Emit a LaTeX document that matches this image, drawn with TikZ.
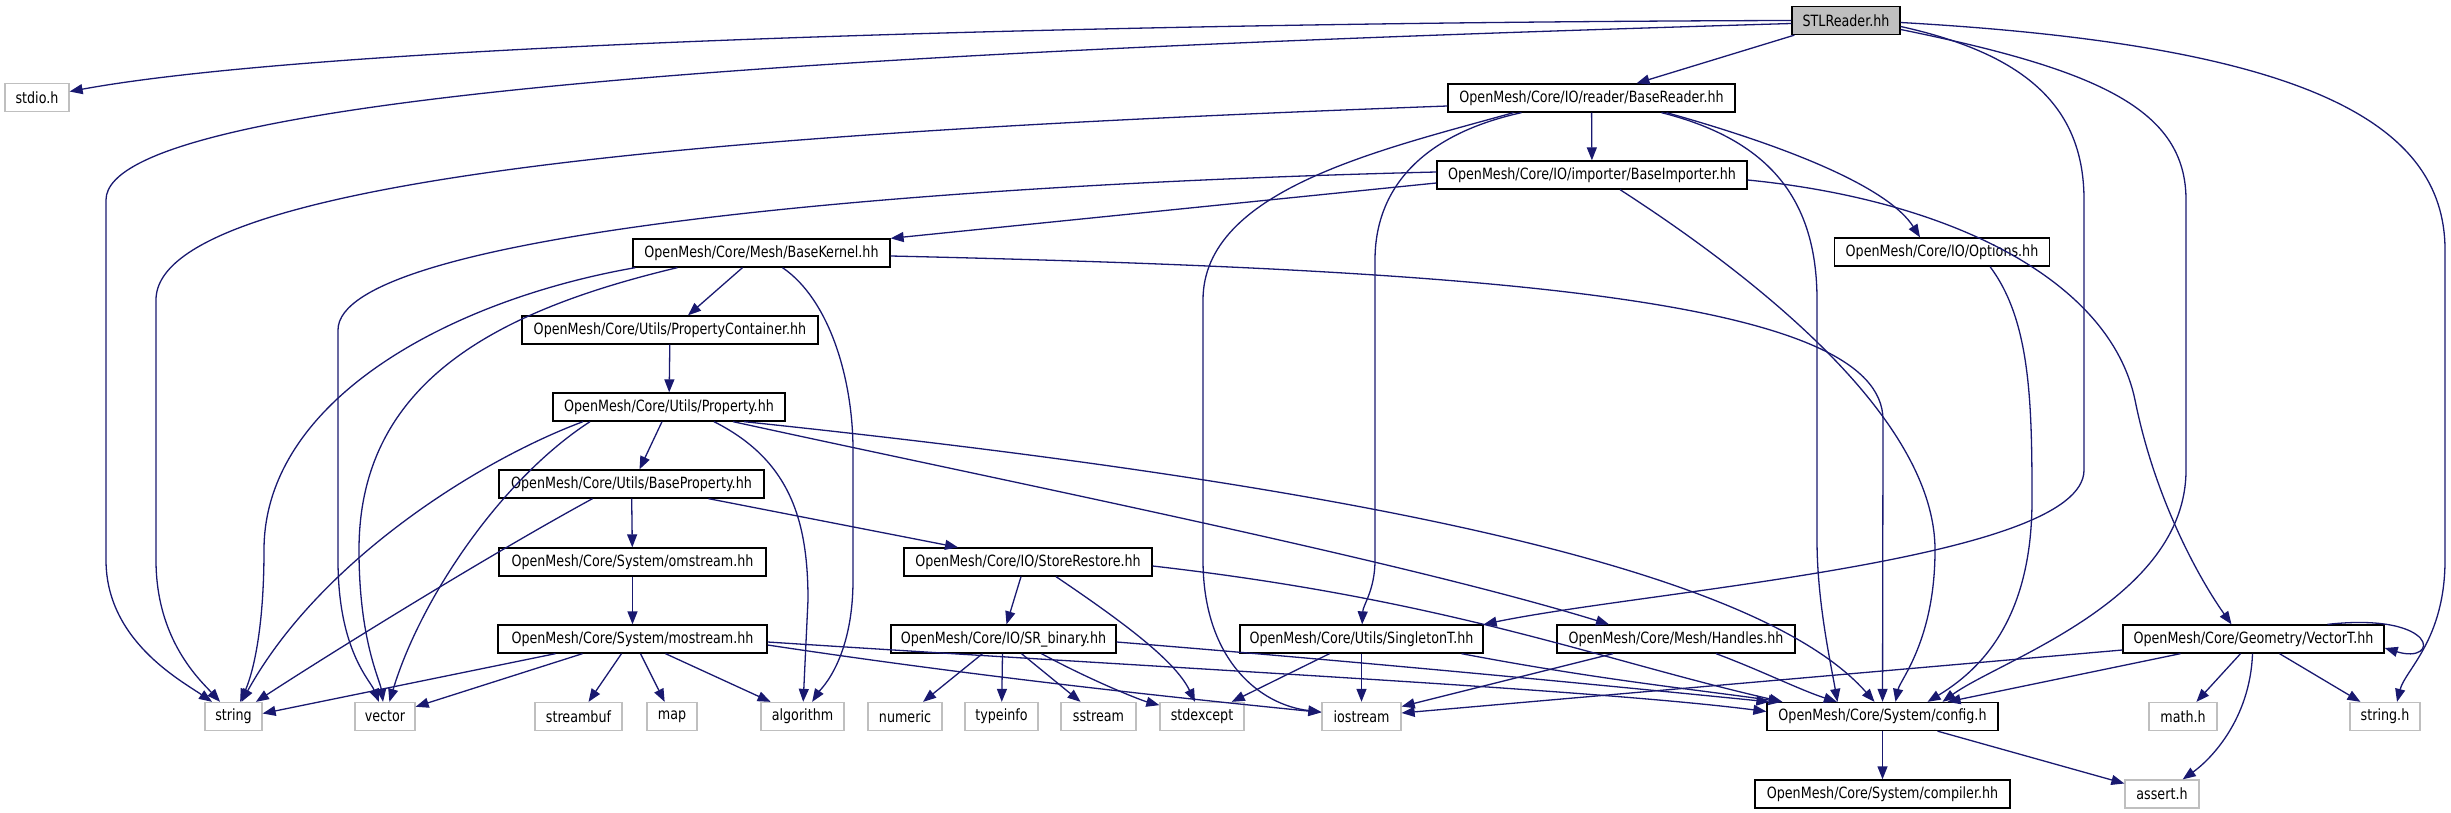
\documentclass[tikz,border=0pt]{standalone}
\usepackage{fontspec}
\setmainfont{DejaVu Sans}[FakeStretch=0.82]
\usetikzlibrary{arrows.meta}
\definecolor{edgec}{HTML}{191970}
\definecolor{extc}{HTML}{BFBFBF}
\definecolor{rootc}{HTML}{BFBFBF}
\begin{document}
\begin{tikzpicture}[x=1pt,y=-1pt,
  font=\fontsize{15.5}{17}\selectfont,
  box/.style={line width=1.3pt, minimum height=28, inner sep=0},
  int/.style={box, draw=black},
  ext/.style={box, draw=extc},
  root/.style={box, draw=black, fill=rootc},
  e/.style={draw=edgec, line width=1.3pt, -{Triangle[length=13pt,width=10pt]}}]
\useasboundingbox (0,0) rectangle (2451,813);
% nodes
\node[root, minimum width=108] (stl) at (1846,20.5) {STLReader.hh};
\node[ext, minimum width=64] (stdio) at (37,97.5) {stdio.h};
\node[int, minimum width=287] (br) at (1591.5,98) {OpenMesh/Core/IO/reader/BaseReader.hh};
\node[int, minimum width=310] (bi) at (1592,175) {OpenMesh/Core/IO/importer/BaseImporter.hh};
\node[int, minimum width=257] (bk) at (761.5,253) {OpenMesh/Core/Mesh/BaseKernel.hh};
\node[int, minimum width=215] (opt) at (1942,252) {OpenMesh/Core/IO/Options.hh};
\node[int, minimum width=296] (pc) at (670,330) {OpenMesh/Core/Utils/PropertyContainer.hh};
\node[int, minimum width=232] (prop) at (669,407) {OpenMesh/Core/Utils/Property.hh};
\node[int, minimum width=265] (bp) at (631.5,484) {OpenMesh/Core/Utils/BaseProperty.hh};
\node[int, minimum width=267] (oms) at (632.5,562) {OpenMesh/Core/System/omstream.hh};
\node[int, minimum width=248] (sr) at (1028,562) {OpenMesh/Core/IO/StoreRestore.hh};
\node[int, minimum width=269] (mos) at (632.5,639) {OpenMesh/Core/System/mostream.hh};
\node[int, minimum width=225] (srb) at (1003.5,639) {OpenMesh/Core/IO/SR\_binary.hh};
\node[int, minimum width=243] (sing) at (1361.5,639) {OpenMesh/Core/Utils/SingletonT.hh};
\node[int, minimum width=238] (hand) at (1676,639) {OpenMesh/Core/Mesh/Handles.hh};
\node[int, minimum width=261] (vec) at (2253.5,639) {OpenMesh/Core/Geometry/VectorT.hh};
\node[ext, minimum width=57] (string) at (233.5,716.5) {string};
\node[ext, minimum width=60] (vector) at (385,716.5) {vector};
\node[ext, minimum width=87] (streambuf) at (578.5,716.5) {streambuf};
\node[ext, minimum width=50] (map) at (672,716.5) {map};
\node[ext, minimum width=83] (algorithm) at (802.5,716.5) {algorithm};
\node[ext, minimum width=74] (numeric) at (905,716.5) {numeric};
\node[ext, minimum width=73] (typeinfo) at (1001.5,716.5) {typeinfo};
\node[ext, minimum width=75] (sstream) at (1098.5,716.5) {sstream};
\node[ext, minimum width=84] (stdexcept) at (1202,716.5) {stdexcept};
\node[ext, minimum width=79] (iostream) at (1361.5,716.5) {iostream};
\node[int, minimum width=231] (config) at (1882.5,716.5) {OpenMesh/Core/System/config.h};
\node[ext, minimum width=68] (math) at (2183,716.5) {math.h};
\node[ext, minimum width=70] (stringh) at (2385,716.5) {string.h};
\node[int, minimum width=255] (compiler) at (1882.5,794) {OpenMesh/Core/System/compiler.hh};
\node[ext, minimum width=74] (assert) at (2162,794) {assert.h};
% STLReader
\draw[e] (stl.west) .. controls (1200,22) and (350,40) .. (stdio);
\draw[e] ([yshift=-3]stl.west) .. controls (900,50) and (106,90) .. (106,200) -- (106,560) .. controls (106,640) and (180,680) .. (string);
\draw[e] ([xshift=3]stl.south west) -- ([xshift=45]br.north);
\draw[e] ([yshift=-6]stl.east) .. controls (2030,55) and (2084,110) .. (2084,200) -- (2084,470) .. controls (2084,560) and (1650,590) .. (sing.north east);
\draw[e] ([yshift=-9]stl.east) .. controls (2100,70) and (2186,110) .. (2186,200) -- (2186,470) .. controls (2186,600) and (2000,660) .. ([xshift=60]config.north);
\draw[e] ([yshift=-2]stl.east) .. controls (2300,45) and (2445,120) .. (2445,250) -- (2445,560) .. controls (2445,640) and (2405,670) .. ([xshift=12]stringh.north);
% BaseReader
\draw[e] ([yshift=-8]br.west) .. controls (800,130) and (156,170) .. (156,300) -- (156,560) .. controls (156,640) and (200,680) .. (string);
\draw[e] ([xshift=-78]br.south) .. controls (1380,150) and (1203,190) .. (1203,300) -- (1203,560) .. controls (1203,660) and (1260,705) .. (iostream);
\draw[e] ([xshift=-70]br.south) .. controls (1420,135) and (1375,190) .. (1375,260) -- (1375,560) .. controls (1375,590) and (1363,605) .. (sing);
\draw[e] (br) -- (bi);
\draw[e] ([xshift=70]br.south) .. controls (1770,140) and (1817,200) .. (1817,300) -- (1817,540) .. controls (1817,600) and (1830,660) .. ([xshift=-45]config.north);
\draw[e] ([xshift=75]br.south) .. controls (1800,150) and (1890,190) .. ([xshift=-22]opt.north);
% BaseImporter
\draw[e] ([yshift=3]bi.west) .. controls (900,185) and (338,235) .. (338,330) -- (338,560) .. controls (338,650) and (370,680) .. (vector);
\draw[e] ([yshift=-8]bi.west) -- (bk.north east);
\draw[e] ([xshift=28]bi.south) .. controls (1760,280) and (1935,420) .. (1935,550) .. controls (1935,640) and (1900,680) .. ([xshift=13]config.north);
\draw[e] ([yshift=-5]bi.east) .. controls (1950,200) and (2110,280) .. (2135,400) .. controls (2155,500) and (2200,580) .. ([xshift=-22]vec.north);
% Options
\draw[e] ([xshift=48]opt.south) .. controls (2030,320) and (2032,400) .. (2032,500) .. controls (2032,620) and (1980,670) .. ([xshift=45]config.north);
% BaseKernel
\draw[e] ([xshift=3]bk.south west) .. controls (450,300) and (264,400) .. (264,550) .. controls (264,640) and (250,680) .. (string);
\draw[e] ([xshift=45]bk.south west) .. controls (500,310) and (359,380) .. (359,550) .. controls (359,640) and (380,680) .. (vector);
\draw[e] ([xshift=-19]bk.south) -- ([xshift=18]pc.north);
\draw[e] ([xshift=21]bk.south) .. controls (830,300) and (853,380) .. (853,450) -- (853,580) .. controls (853,660) and (820,690) .. (algorithm);
\draw[e] ([yshift=-3]bk.east) .. controls (1500,270) and (1883,300) .. (1883,420) -- (config);
% PropertyContainer
\draw[e] (pc) -- (prop);
% Property
\draw[e] ([xshift=-86]prop.south) .. controls (480,460) and (320,560) .. (string);
\draw[e] ([xshift=-79]prop.south) .. controls (500,480) and (420,600) .. (vector);
\draw[e] ([xshift=-7]prop.south) -- ([xshift=8]bp.north);
\draw[e] ([xshift=45]prop.south) .. controls (790,460) and (808,520) .. (808,600) -- (algorithm);
\draw[e] ([xshift=64]prop.south) .. controls (1000,480) and (1400,560) .. ([xshift=-67]hand.north);
\draw[e] ([xshift=75]prop.south) .. controls (1300,480) and (1750,560) .. ([xshift=-8]config.north);
% BaseProperty
\draw[e] ([xshift=-39]bp.south) .. controls (480,560) and (320,660) .. (string);
\draw[e] (bp) -- (oms);
\draw[e] ([xshift=77]bp.south) -- ([xshift=-70]sr.north);
% omstream
\draw[e] (oms) -- (mos);
% StoreRestore
\draw[e] ([xshift=-7]sr.south) -- ([xshift=3]srb.north);
\draw[e] ([xshift=28]sr.south) .. controls (1120,620) and (1175,660) .. (stdexcept);
\draw[e] ([yshift=-4]sr.east) .. controls (1450,600) and (1600,660) .. ([xshift=-100]config.north);
% SR_binary
\draw[e] ([xshift=-21]srb.south) -- (numeric);
\draw[e] ([xshift=-1]srb.south) -- (typeinfo);
\draw[e] ([xshift=18]srb.south) -- (sstream);
\draw[e] ([xshift=38]srb.south) .. controls (1090,680) and (1140,700) .. (stdexcept);
\draw[e] ([yshift=-3]srb.east) .. controls (1400,665) and (1650,690) .. ([xshift=3]config.north west);
% mostream
\draw[e] ([xshift=-77]mos.south) -- ([yshift=3]string.east);
\draw[e] ([xshift=-50]mos.south) -- (vector);
\draw[e] ([xshift=-11]mos.south) -- (streambuf);
\draw[e] ([xshift=8]mos.south) -- (map);
\draw[e] ([xshift=33]mos.south) -- (algorithm);
\draw[e] ([yshift=-6]mos.east) .. controls (1000,680) and (1200,700) .. (iostream);
\draw[e] ([yshift=-3]mos.east) .. controls (1200,670) and (1600,690) .. ([yshift=5]config.west);
% SingletonT
\draw[e] ([xshift=-32]sing.south) -- (stdexcept);
\draw[e] (sing) -- (iostream);
\draw[e] ([xshift=100]sing.south) .. controls (1600,680) and (1700,690) .. (config);
% Handles
\draw[e] ([xshift=-63]hand.south) -- (iostream);
\draw[e] ([xshift=40]hand.south) .. controls (1760,670) and (1800,690) .. (config);
% VectorT
\draw[e] ([yshift=-11]vec.west) -- (iostream);
\draw[e] ([xshift=-73]vec.south) -- ([xshift=65]config.north);
\draw[e] ([xshift=-13]vec.south) -- (math);
\draw[e] ([xshift=-1]vec.south) .. controls (2250,720) and (2210,760) .. (assert);
\draw[e] ([xshift=26]vec.south) -- (stringh);
\draw[e] ([xshift=74]vec.north) .. controls (2440,612) and (2440,665) .. ([yshift=-9]vec.east);
% config
\draw[e] (config) -- (compiler);
\draw[e] ([xshift=55]config.south) -- (assert);
\end{tikzpicture}
\end{document}
